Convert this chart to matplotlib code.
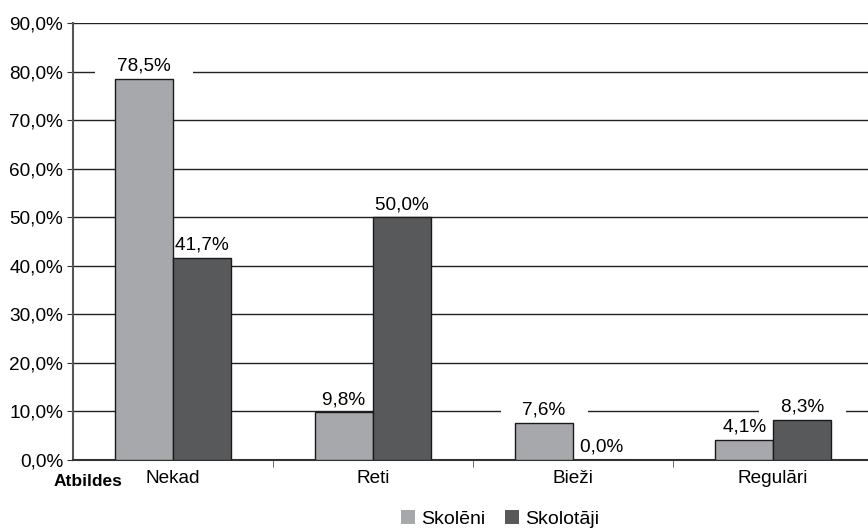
import numpy as np
import matplotlib.pyplot as plt
from matplotlib.patches import Patch

plt.rcParams['font.family'] = ['Liberation Sans', 'DejaVu Sans']

categories = ["Nekad", "Reti", "Bieži", "Regulāri"]
skoleni = [78.5, 9.8, 7.6, 4.1]
skolotaji = [41.7, 50.0, 0.0, 8.3]
series_names = ["Skolēni", "Skolotāji"]
colors = ["#a7a8ac", "#58595b"]

fs = 13.7

fig = plt.figure(figsize=(8.68, 5.28), dpi=100)
ax = fig.add_axes([0.084, 0.129, 0.922, 0.827])

x = np.arange(len(categories))
w = 0.29
bars1 = ax.bar(x - w / 2, skoleni, w, color=colors[0], edgecolor="#1a1a1a",
               linewidth=1, zorder=3)
bars2 = ax.bar(x + w / 2, skolotaji, w, color=colors[1], edgecolor="#1a1a1a",
               linewidth=1, zorder=3)

# value labels with white boxes that break the gridlines
for bars, vals in ((bars1, skoleni), (bars2, skolotaji)):
    for b, v in zip(bars, vals):
        lbl = "    " + ("%.1f%%" % v).replace(".", ",") + "    "
        ax.annotate(lbl, (b.get_x() + b.get_width() / 2, v),
                    xytext=(0, 3), textcoords="offset points",
                    ha="center", va="bottom", fontsize=fs, zorder=2,
                    bbox=dict(boxstyle="square,pad=0.05", fc="white", ec="none"))

ax.set_xlim(-0.5, len(categories) - 0.5)
ax.set_ylim(0, 90)
ax.set_yticks(np.arange(0, 91, 10))
ax.set_yticklabels([("%.1f%%" % t).replace(".", ",") for t in np.arange(0, 91, 10)],
                   fontsize=fs)
ax.yaxis.grid(True, color="#222222", linewidth=1, zorder=0)
ax.set_axisbelow(True)

# category labels centred, ticks between groups
ax.set_xticks(x)
ax.set_xticklabels(categories, fontsize=fs)
ax.tick_params(axis="x", length=0, pad=7)
ax.set_xticks(np.arange(0.5, len(categories) - 0.5, 1), minor=True)
ax.tick_params(axis="x", which="minor", length=5, color="#555555", direction="out")
ax.tick_params(axis="y", length=4, color="#333333", pad=3)

for s in ("top", "right"):
    ax.spines[s].set_visible(False)
ax.spines["left"].set_color("#555555")
ax.spines["left"].set_linewidth(1.5)
ax.spines["bottom"].set_color("#333333")
ax.spines["bottom"].set_linewidth(1.5)

fig.text(0.101, 0.089, "Atbildes", fontsize=12.5, fontweight="bold",
         ha="center", va="center")

handles = [Patch(facecolor=c, edgecolor="none") for c in colors]
fig.legend(handles, series_names, loc="center", bbox_to_anchor=(0.576, 0.017),
           ncol=2, frameon=False, fontsize=14, handlelength=0.75,
           handleheight=0.75, handletextpad=0.3, columnspacing=1.0, borderpad=0)

fig.savefig("out.png", dpi=100)
